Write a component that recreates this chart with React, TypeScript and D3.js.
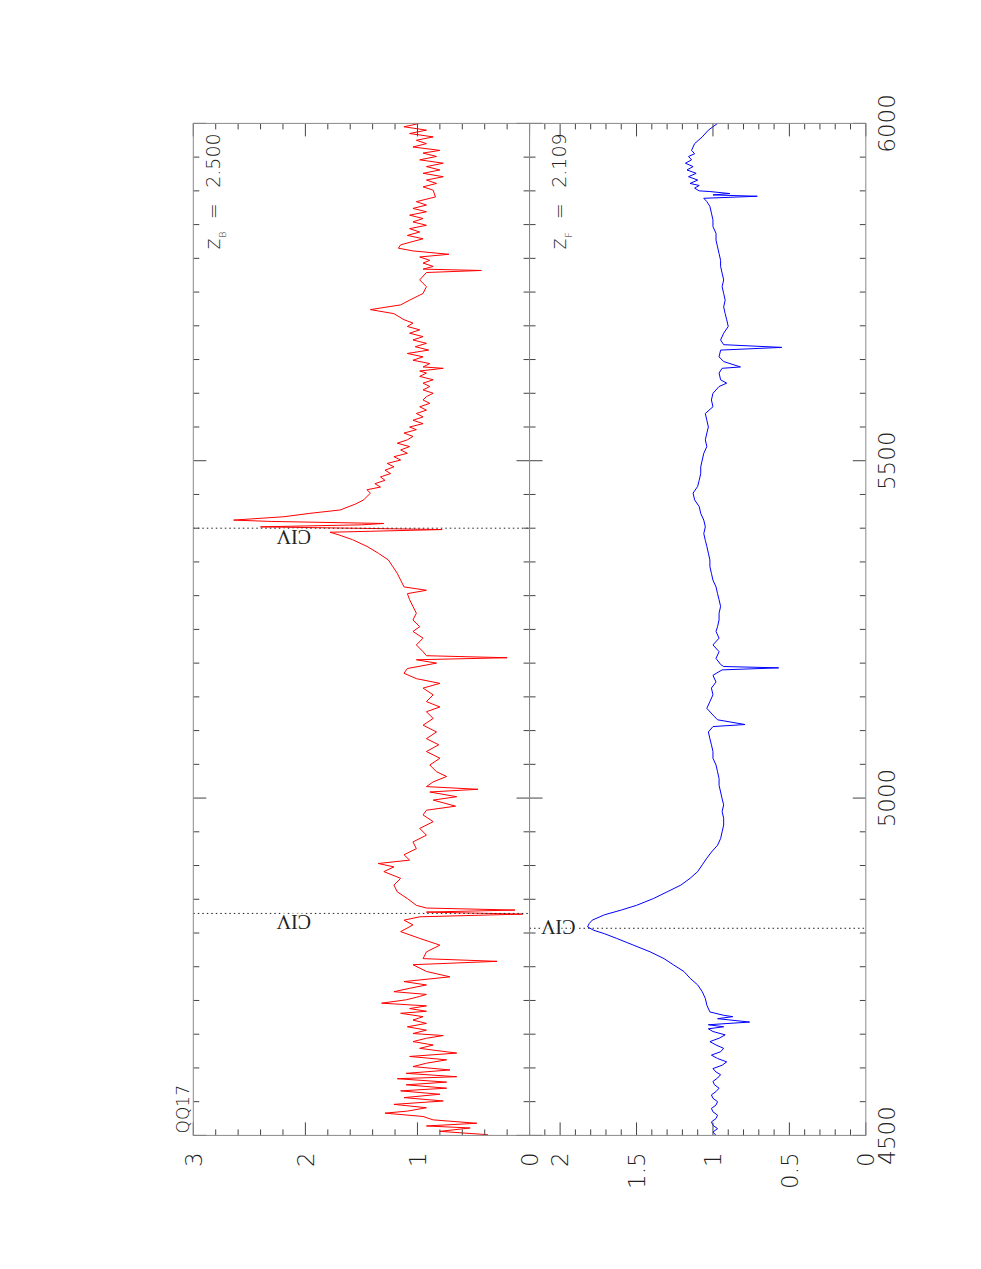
import * as d3 from 'd3';

// wavelengths (Angstrom) and normalised flux
const redWave = [
  4501, 4506, 4511, 4514, 4518, 4523, 4528, 4533, 4536, 4541, 4546, 4551, 4556, 4561, 4566, 4570,
  4575, 4579, 4584, 4587, 4592, 4597, 4602, 4607, 4612, 4617, 4622, 4629, 4634, 4639, 4644, 4648,
  4651, 4656, 4661, 4666, 4671, 4676, 4681, 4684, 4688, 4692, 4696, 4701, 4706, 4709, 4713, 4718,
  4723, 4728, 4735, 4743, 4753, 4758, 4762, 4772, 4782, 4792, 4802, 4812, 4819, 4824, 4828, 4831,
  4834, 4837, 4841, 4851, 4861, 4871, 4881, 4891, 4898, 4903, 4908, 4916, 4925, 4935, 4945, 4955,
  4965, 4975, 4982, 4988, 4997, 5002, 5009, 5013, 5017, 5024, 5032, 5039, 5049, 5059, 5069, 5079,
  5088, 5098, 5108, 5118, 5128, 5135, 5143, 5153, 5163, 5170, 5177, 5185, 5192, 5200, 5205, 5208,
  5211, 5217, 5227, 5237, 5247, 5254, 5264, 5274, 5284, 5294, 5303, 5308, 5313, 5323, 5333, 5343,
  5353, 5363, 5373, 5383, 5390, 5394, 5398, 5402, 5405, 5407, 5410, 5412, 5417, 5422, 5427, 5436,
  5442, 5452, 5457, 5461, 5466, 5471, 5476, 5481, 5486, 5491, 5496, 5501, 5506, 5511, 5516, 5521,
  5526, 5531, 5536, 5541, 5546, 5550, 5555, 5560, 5565, 5570, 5575, 5580, 5585, 5590, 5595, 5600,
  5605, 5610, 5615, 5620, 5625, 5630, 5633, 5637, 5639, 5644, 5649, 5654, 5659, 5664, 5669, 5674,
  5679, 5684, 5689, 5694, 5699, 5704, 5709, 5718, 5724, 5731, 5738, 5748, 5758, 5768, 5779, 5782,
  5784, 5788, 5793, 5797, 5802, 5806, 5811, 5815, 5820, 5825, 5829, 5834, 5839, 5844, 5849, 5854,
  5859, 5864, 5869, 5874, 5879, 5884, 5891, 5901, 5906, 5911, 5916, 5921, 5926, 5931, 5936, 5941,
  5946, 5951, 5956, 5960, 5965, 5970, 5975, 5980, 5985, 5990, 5995, 6000,
];
const redFlux = [
  0.37, 0.8, 0.53, 0.92, 0.47, 0.86, 0.95, 1.29, 1.09, 0.92, 1.21, 0.77, 1.12, 0.8, 1.15, 0.74,
  1.1, 0.74, 1.18, 0.65, 1.1, 0.71, 1.04, 0.92, 0.74, 1.07, 0.65, 0.98, 0.86, 1.04, 0.92, 0.77,
  1.04, 0.92, 1.09, 0.92, 1.04, 0.95, 1.15, 0.92, 1.07, 0.92, 1.32, 1.1, 0.98, 0.92, 1.21, 1.07,
  0.92, 1.12, 0.71, 0.92, 1.04, 0.29, 0.95, 0.92, 0.8, 0.98, 1.15, 1.04, 1.12, 0.98, 0.06, 0.92,
  0.13, 0.92, 1.01, 1.09, 1.18, 1.21, 1.15, 1.3, 1.21, 1.35, 1.07, 1.12, 1.01, 1.04, 0.92, 0.98,
  0.86, 0.95, 0.92, 0.66, 0.86, 0.65, 0.89, 0.46, 0.92, 0.86, 0.74, 0.83, 0.89, 0.8, 0.92, 0.81,
  0.92, 0.83, 0.95, 0.86, 0.92, 0.8, 0.92, 0.86, 0.95, 0.8, 1.01, 1.12, 1.09, 0.83, 1.01, 0.2,
  0.92, 0.95, 1.01, 0.95, 1.04, 0.98, 1.04, 1.01, 1.04, 1.07, 1.09, 0.92, 1.12, 1.15, 1.18, 1.22,
  1.26, 1.35, 1.45, 1.58, 1.7, 1.78, 0.78, 2.4, 1.5, 1.3, 2.3, 2.64, 2.19, 1.96, 1.69, 1.55,
  1.48, 1.42, 1.45, 1.33, 1.38, 1.29, 1.33, 1.24, 1.29, 1.21, 1.27, 1.15, 1.21, 1.09, 1.15, 1.07,
  1.18, 1.09, 1.04, 1.12, 1.01, 1.07, 0.95, 1.04, 0.95, 1.01, 0.92, 0.98, 0.89, 0.95, 0.92, 0.86,
  0.95, 0.89, 0.95, 0.86, 0.98, 0.92, 0.98, 0.77, 0.95, 0.89, 1.04, 0.95, 1.09, 0.9, 1.02, 0.92,
  1.04, 0.95, 1.07, 0.98, 1.09, 1.04, 1.12, 1.21, 1.42, 1.15, 1.07, 0.95, 0.92, 0.98, 0.92, 0.43,
  0.95, 0.86, 0.95, 0.89, 0.98, 0.72, 1.04, 1.17, 1.15, 1.04, 0.95, 1.09, 0.98, 1.07, 0.92, 1.04,
  0.95, 1.07, 0.92, 1.04, 0.92, 1.01, 0.84, 0.86, 0.95, 0.83, 0.92, 0.77, 0.95, 0.8, 0.92, 0.77,
  0.98, 0.83, 0.95, 0.8, 1.04, 0.92, 1.01, 0.86, 1.07, 0.92, 1.12, 0.98,
];

const blueWave = [
  4500, 4505, 4510, 4515, 4520, 4525, 4530, 4535, 4540, 4545, 4550, 4555, 4560, 4565, 4570, 4575,
  4580, 4585, 4590, 4594, 4599, 4604, 4609, 4614, 4619, 4624, 4629, 4634, 4639, 4644, 4649, 4654,
  4658, 4661, 4664, 4668, 4673, 4676, 4678, 4683, 4693, 4703, 4713, 4723, 4733, 4743, 4753, 4762,
  4772, 4782, 4792, 4799, 4804, 4809, 4814, 4819, 4827, 4834, 4841, 4851, 4861, 4871, 4881, 4891,
  4901, 4911, 4920, 4930, 4940, 4950, 4960, 4970, 4980, 4990, 4999, 5009, 5019, 5029, 5039, 5049,
  5059, 5069, 5079, 5088, 5098, 5106, 5109, 5116, 5123, 5133, 5143, 5153, 5163, 5172, 5182, 5190,
  5193, 5195, 5198, 5207, 5217, 5227, 5237, 5247, 5254, 5264, 5274, 5284, 5294, 5303, 5313, 5323,
  5333, 5343, 5353, 5363, 5373, 5382, 5392, 5402, 5412, 5422, 5432, 5442, 5452, 5462, 5471, 5481,
  5491, 5501, 5511, 5521, 5531, 5541, 5550, 5560, 5570, 5580, 5590, 5600, 5610, 5615, 5620, 5630,
  5637, 5639, 5647, 5654, 5664, 5668, 5672, 5679, 5689, 5699, 5709, 5718, 5728, 5738, 5748, 5758,
  5768, 5778, 5788, 5797, 5807, 5817, 5827, 5837, 5847, 5857, 5867, 5877, 5884, 5889, 5892, 5894,
  5896, 5899, 5900, 5904, 5908, 5911, 5916, 5921, 5926, 5931, 5936, 5941, 5946, 5951, 5955, 5960,
  5965, 5970, 5980, 5990, 6000,
];
const blueFlux = [
  0.98, 1.0, 0.97, 1.0, 1.01, 0.98, 0.97, 1.0, 1.01, 0.98, 0.97, 1.0, 1.01, 0.98, 0.96, 0.99,
  1.0, 0.97, 0.95, 0.98, 1.0, 0.94, 0.91, 0.97, 1.01, 0.95, 0.93, 0.98, 1.02, 0.96, 0.92, 1.0,
  1.03, 0.93, 1.03, 0.76, 0.97, 0.87, 0.93, 1.02, 1.04, 1.05, 1.07, 1.1, 1.15, 1.19, 1.26, 1.32,
  1.41, 1.52, 1.63, 1.71, 1.78, 1.82, 1.81, 1.79, 1.71, 1.6, 1.5, 1.39, 1.3, 1.21, 1.15, 1.1,
  1.07, 1.04, 1.01, 0.97, 0.95, 0.94, 0.93, 0.93, 0.94, 0.93, 0.94, 0.95, 0.96, 0.96, 0.97, 0.98,
  1.0, 1.0, 1.01, 1.02, 1.03, 1.0, 0.79, 0.97, 1.0, 1.04, 1.02, 1.0, 1.01, 0.98, 1.0, 0.94,
  0.57, 0.93, 0.95, 0.98, 0.96, 1.0, 0.96, 0.98, 0.97, 0.96, 0.96, 0.95, 0.96, 0.97, 0.98, 1.0,
  1.01, 1.02, 1.02, 1.03, 1.04, 1.05, 1.06, 1.05, 1.06, 1.08, 1.09, 1.12, 1.13, 1.1, 1.09, 1.08,
  1.08, 1.07, 1.06, 1.04, 1.05, 1.04, 1.03, 1.04, 1.05, 1.0, 1.01, 1.0, 0.96, 0.91, 0.95, 0.96,
  0.94, 0.82, 0.93, 0.96, 0.95, 0.55, 0.93, 0.95, 0.93, 0.9, 0.91, 0.92, 0.93, 0.92, 0.93, 0.94,
  0.93, 0.94, 0.95, 0.95, 0.96, 0.97, 0.98, 0.98, 1.0, 1.0, 1.01, 1.02, 1.04, 1.06, 0.71, 1.0,
  0.89, 1.02, 1.09, 1.12, 1.09, 1.15, 1.1, 1.16, 1.11, 1.17, 1.13, 1.18, 1.14, 1.16, 1.12, 1.14,
  1.13, 1.12, 1.07, 1.03, 0.97,
];

const waveTicks = [4500, 5000, 5500, 6000];
const redTicks = [0, 1, 2, 3];
const blueTicks = [0, 0.5, 1, 1.5, 2];
const redLines = [5400, 4829];
const blueLines = [4807];
const lineLabel = 'CIV';
const objectName = 'QQ17';

const W = 1012;
const PH = 336.25;
const sans = "'DejaVu Sans', sans-serif";
const serif = "'Liberation Serif', 'DejaVu Serif', serif";
const frameColor = '#8a8a8a';
const tickColor = '#444';

const x = d3.scaleLinear().domain([4500, 6000]).range([0, W]);

function Panel({ y, wave, flux, color, minorStep, majorStep, ticks, lines, labelDx, labelAt, z, zSub, zBase }) {
  const [bottom, top] = y.range();
  const path = d3
    .line<number>()
    .x((_, i) => x(wave[i]))
    .y((d) => y(d))(flux);
  const xt = d3.range(4500, 6000.1, 50);
  const yt = d3.range(0, y.domain()[1] + 1e-6, minorStep);
  const isMajor = (v, step) => Math.abs(v / step - Math.round(v / step)) < 1e-6;

  return (
    <g>
      <path d={path} fill="none" stroke={color} strokeWidth={1} strokeLinejoin="round" />
      {lines.map((l) => (
        <line key={l} x1={x(l)} x2={x(l)} y1={top} y2={bottom} stroke="#222" strokeWidth={1} strokeDasharray="1.5,3" />
      ))}
      {lines.map((l) => (
        <text
          key={'t' + l}
          transform={`translate(${x(l) + labelDx},${y(labelAt)}) rotate(-90)`}
          fontFamily={serif}
          fontSize={20}
          fill="#222"
          stroke="#fff"
          strokeWidth={3}
          paintOrder="stroke"
        >
          {lineLabel}
        </text>
      ))}
      {xt.map((v) => {
        const len = isMajor(v, 500) ? 13 : 6;
        return (
          <g key={'x' + v} stroke={tickColor} strokeWidth={1}>
            <line x1={x(v)} x2={x(v)} y1={top} y2={top + len} />
            <line x1={x(v)} x2={x(v)} y1={bottom} y2={bottom - len} />
          </g>
        );
      })}
      {yt.map((v) => {
        const len = isMajor(v, majorStep) ? 13 : 6;
        return (
          <g key={'y' + v} stroke={tickColor} strokeWidth={1}>
            <line x1={0} x2={len} y1={y(v)} y2={y(v)} />
            <line x1={W} x2={W - len} y1={y(v)} y2={y(v)} />
          </g>
        );
      })}
      <rect x={0} y={top} width={W} height={bottom - top} fill="none" stroke={frameColor} strokeWidth={1} />
      {ticks.map((v) => (
        <text key={'l' + v} x={-17} y={y(v)} dy="0.36em" textAnchor="end" fontFamily={sans} fontWeight={200} fontSize={23} fill="#222">
          {v}
        </text>
      ))}
      <g fontFamily={sans} fontWeight={200} fill="#222">
        <text x={W - 126} y={top + zBase} fontSize={21}>z</text>
        <text x={W - 114} y={top + zBase + 6} fontSize={9}>{zSub}</text>
        <text x={W - 88} y={top + zBase} fontSize={19} textAnchor="middle">=</text>
        <text x={W - 10} y={top + zBase} fontSize={19} textAnchor="end">{z}</text>
      </g>
    </g>
  );
}

export default function App() {
  const yRed = d3.scaleLinear().domain([0, 3]).range([PH, 0]);
  const yBlue = d3.scaleLinear().domain([0, 2.2]).range([2 * PH, PH]);

  return (
    <svg width={981} height={1269} style={{ position: 'absolute', left: 0, top: 0, background: '#fff' }}>
      <g transform="translate(193.3,1135.4) rotate(-90)">
        <Panel
          y={yRed}
          wave={redWave}
          flux={redFlux}
          color="#ff0000"
          minorStep={0.2}
          majorStep={1}
          ticks={redTicks}
          lines={redLines}
          labelDx={-2}
          labelAt={1.95}
          z="2.500"
          zSub="B"
          zBase={26.7}
        />
        <Panel
          y={yBlue}
          wave={blueWave}
          flux={blueFlux}
          color="#0000ff"
          minorStep={0.1}
          majorStep={0.5}
          ticks={blueTicks}
          lines={blueLines}
          labelDx={8}
          labelAt={1.9}
          z="2.109"
          zSub="F"
          zBase={36}
        />
        {waveTicks.map((v) => (
          <text key={v} x={x(v)} y={2 * PH + 29} textAnchor="middle" fontFamily={sans} fontWeight={200} fontSize={23} fill="#222">
            {v}
          </text>
        ))}
        <text x={2} y={-4} fontFamily={sans} fontWeight={200} fontSize={17} fill="#222">
          {objectName}
        </text>
      </g>
    </svg>
  );
}
